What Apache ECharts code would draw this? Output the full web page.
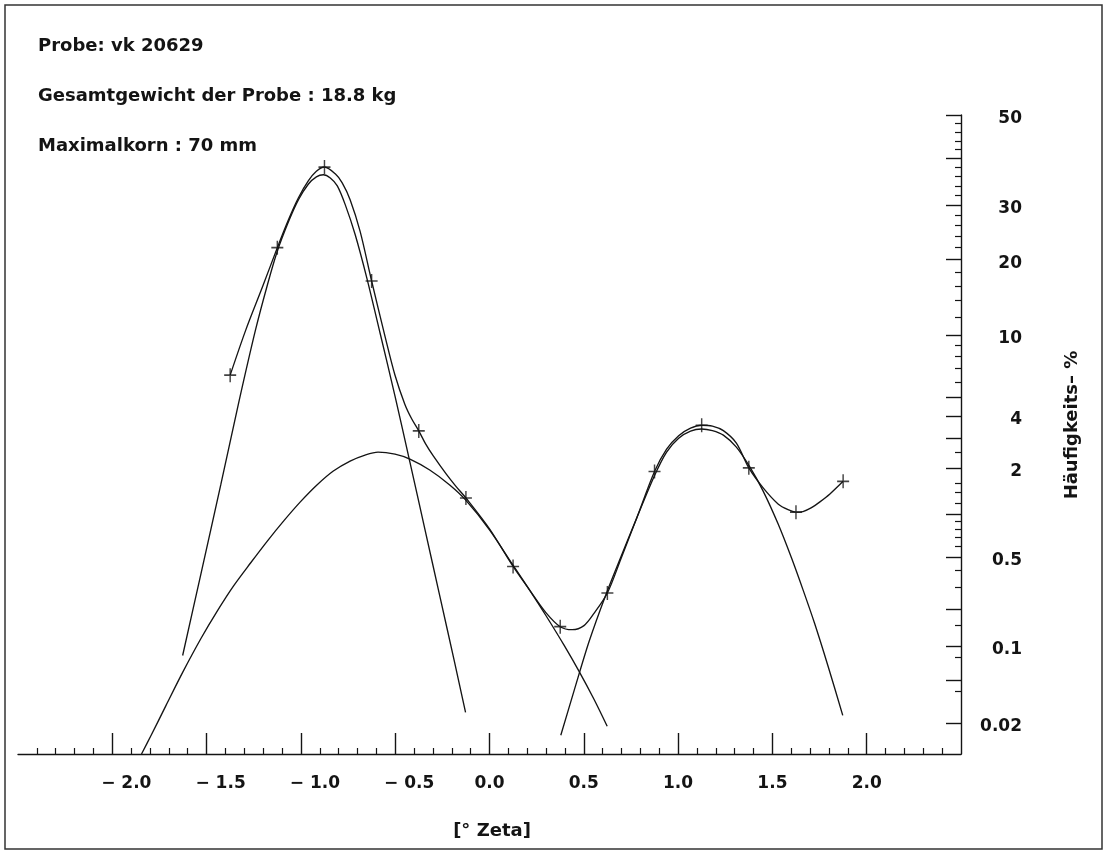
<!DOCTYPE html>
<html>
<head>
<meta charset="utf-8">
<script src="https://cdn.jsdelivr.net/npm/echarts@6/dist/echarts.min.js"></script>
<style>
html,body{margin:0;padding:0;background:#fff;}
#chart{width:1111px;height:855px;}
</style>
</head>
<body>
<div id="chart"></div>
<script>
// ---- measured frequencies (Häufigkeit in %) at Zeta class midpoints ----
const zeta = [-1.375,-1.125,-0.875,-0.625,-0.375,-0.125,0.125,0.375,0.625,0.875,1.125,1.375,1.625,1.875];
const haeufigkeit = [6.5,22.0,38.1,16.7,3.3,1.29,0.43,0.145,0.27,1.9,3.55,2.0,1.04,1.65];

const curveX = [-1.375,-1.293,-1.203,-1.125,-1.066,-1.013,-0.960,-0.918,-0.875,-0.818,-0.781,-0.739,-0.686,-0.625,
  -0.554,-0.501,-0.449,-0.412,-0.375,-0.338,-0.299,-0.229,-0.179,-0.125,0.0,0.125,0.211,0.299,0.375,0.438,0.501,0.554,
  0.625,0.697,0.781,0.875,0.939,1.003,1.066,1.125,1.182,1.240,1.309,1.375,1.451,1.530,1.583,1.625,1.662,1.705,1.752,1.805,1.875];
const curveY = [6.5,10.5,15.9,22.0,27.1,31.5,35.1,37.15,38.1,36.6,34.65,31.1,24.9,16.7,
  9.88,6.49,4.62,3.84,3.3,2.77,2.37,1.83,1.54,1.29,0.80,0.43,0.287,0.189,0.145,0.137,0.148,0.186,
  0.27,0.49,0.952,1.9,2.59,3.10,3.42,3.55,3.51,3.31,2.81,2.0,1.50,1.18,1.08,1.04,1.05,1.11,1.217,1.37,1.65];

// ---- component 1 (narrow peak) ----
const comp1X = [-1.627,-1.530,-1.425,-1.328,-1.240,-1.177,-1.126,-1.066,-1.013,-0.960,-0.918,-0.881,-0.844,-0.807,
  -0.765,-0.712,-0.651,-0.580,-0.501,-0.422,-0.343,-0.264,-0.185,-0.127];
const comp1Y = [0.0828,0.379,1.565,4.79,10.6,16.2,21.3,26.7,31.1,34.4,35.95,36.4,35.7,34.0,
  30.1,24.3,17.2,10.2,5.09,2.17,0.80,0.258,0.0721,0.0254];

// ---- component 2 (broad) ----
const comp2X = [-1.845,-1.794,-1.715,-1.627,-1.530,-1.442,-1.356,-1.266,-1.177,-1.091,-1.003,-0.915,-0.828,-0.739,
  -0.660,-0.591,-0.501,-0.422,-0.317,-0.211,-0.127,0.0,0.123,0.211,0.299,0.396,0.475,0.554,0.624];
const comp2Y = [0.0100,0.0153,0.0295,0.0589,0.1156,0.196,0.308,0.458,0.660,0.908,1.217,1.565,1.913,2.20,
  2.39,2.49,2.42,2.26,1.94,1.565,1.254,0.788,0.443,0.287,0.179,0.101,0.0601,0.0336,0.0187];

// ---- component 3 (right peak) ----
const comp3X = [0.378,0.449,0.528,0.617,0.697,0.781,0.874,0.939,1.003,1.066,1.124,1.182,1.240,1.309,1.381,1.451,
  1.530,1.601,1.662,1.724,1.794,1.873];
const comp3Y = [0.0153,0.0406,0.109,0.262,0.507,0.952,1.782,2.49,3.00,3.29,3.38,3.31,3.12,2.66,2.02,1.43,
  0.867,0.498,0.287,0.154,0.0678,0.0238];

// ---- axis ticks / labels ----
const xTickValues = [-2.0,-1.5,-1.0,-0.5,0.0,0.5,1.0,1.5,2.0];
const xTickLabels = ['\u2212 2.0','\u2212 1.5','\u2212 1.0','\u2212 0.5','0.0','0.5','1.0','1.5','2.0'];
const xMinorTicks = [-2.4,-2.3,-2.2,-2.1,-1.9,-1.8,-1.7,-1.6,-1.4,-1.3,-1.2,-1.1,-0.9,-0.8,-0.7,-0.6,
  -0.4,-0.3,-0.2,-0.1,0.1,0.2,0.3,0.4,0.6,0.7,0.8,0.9,1.1,1.2,1.3,1.4,1.6,1.7,1.8,1.9,2.1,2.2,2.3,2.4];
const yLabelValues = [50,30,20,10,4,2,0.5,0.1,0.02];
const yMajorTicks = [50,40,30,20,10,5,4,3,2,1,0.5,0.2,0.1,0.05,0.02];
const yMinorTicks = [48,46,44,42,38,36,34,32,28,26,24,22,18,16,14,12,9,8,7,6,2.5,1.6,1.4,1.2,0.9,0.8,0.7,0.6,0.4,0.3,0.15,0.08,0.04];
const yMinPct = 0.01, yMaxPct = 50;

// probability (normal quantile) scale
function probit(p){
  const a=[-3.969683028665376e+01,2.209460984245205e+02,-2.759285104469687e+02,1.383577518672690e+02,-3.066479806614716e+01,2.506628277459239e+00];
  const b=[-5.447609879822406e+01,1.615858368580409e+02,-1.556989798598866e+02,6.680131188771972e+01,-1.328068155288572e+01];
  const c=[-7.784894002430293e-03,-3.223964580411365e-01,-2.400758277161838e+00,-2.549732539343734e+00,4.374664141464968e+00,2.938163982698783e+00];
  const d=[7.784695709041462e-03,3.224671290700398e-01,2.445134137142996e+00,3.754408661907416e+00];
  const pl=0.02425, ph=1-pl; let q,r;
  if(p<pl){q=Math.sqrt(-2*Math.log(p));return (((((c[0]*q+c[1])*q+c[2])*q+c[3])*q+c[4])*q+c[5])/((((d[0]*q+d[1])*q+d[2])*q+d[3])*q+1);}
  if(p<=ph){q=p-0.5;r=q*q;return (((((a[0]*r+a[1])*r+a[2])*r+a[3])*r+a[4])*r+a[5])*q/(((((b[0]*r+b[1])*r+b[2])*r+b[3])*r+b[4])*r+1);}
  q=Math.sqrt(-2*Math.log(1-p));return -(((((c[0]*q+c[1])*q+c[2])*q+c[3])*q+c[4])*q+c[5])/((((d[0]*q+d[1])*q+d[2])*q+d[3])*q+1);
}
const T = pct => probit(pct/100);
const pairs = (xs, ys) => xs.map((x,i)=>[x, T(ys[i])]);

const FONT = 'DejaVu Sans';
const INK = '#141414';
const lineW = 1.35;
const plus = 'path://M4.4,0 h1.2 v4.4 h4.4 v1.2 h-4.4 v4.4 h-1.2 v-4.4 h-4.4 v-1.2 h4.4 z';
const labelText = {fontFamily:FONT, fontWeight:'bold', fontSize:17, color:INK};

const chart = echarts.init(document.getElementById('chart'), null, {renderer:'canvas'});
const curve = (name, data) => ({
  name, type:'line', data, smooth:0.3, showSymbol:false, symbol:'none', clip:true,
  lineStyle:{color:INK, width:lineW}, silent:true, z:2
});

chart.setOption({
  animation:false,
  backgroundColor:'#fff',
  grid:{left:18, top:115, width:943, height:639, containLabel:false},
  xAxis:[{
    type:'value', min:-2.5, max:2.5, position:'bottom',
    axisLine:{show:true, onZero:false, lineStyle:{color:INK, width:1.4}},
    axisTick:{show:true, inside:true, length:21, customValues:xTickValues, lineStyle:{color:INK, width:1.4}},
    axisLabel:Object.assign({show:true, customValues:xTickValues, margin:21,
      formatter:(v)=>{const i=xTickValues.findIndex(t=>Math.abs(t-v)<1e-9); if(i<0) return '';
        return (v<0?'{neg|':'{pos|')+xTickLabels[i]+'}';},
      rich:{neg:Object.assign({padding:[0,0,0,28]}, labelText), pos:Object.assign({padding:[0,0,0,0]}, labelText)}
    }, labelText),
    splitLine:{show:false}
  },{
    type:'value', min:-2.5, max:2.5, position:'bottom', offset:0,
    axisLine:{show:false, onZero:false},
    axisTick:{show:true, inside:true, length:6, customValues:xMinorTicks, lineStyle:{color:INK, width:1.2}},
    axisLabel:{show:false}, splitLine:{show:false}
  }],
  yAxis:[{
    type:'value', min:T(yMinPct), max:T(yMaxPct), position:'right',
    axisLine:{show:true, onZero:false, lineStyle:{color:INK, width:1.4}},
    axisTick:{show:true, inside:true, length:15, customValues:yMajorTicks.map(T), lineStyle:{color:INK, width:1.4}},
    axisLabel:Object.assign({show:true, customValues:yLabelValues.map(T), align:'right', margin:61,
      formatter:(v)=>{const l=yLabelValues.find(t=>Math.abs(T(t)-v)<1e-6); return l===undefined?'':'{a|'+String(l)+'}';},
      rich:{a:Object.assign({padding:[7,0,0,0]}, labelText)}
    }, labelText),
    splitLine:{show:false}
  },{
    type:'value', min:T(yMinPct), max:T(yMaxPct), position:'right', offset:0,
    axisLine:{show:false, onZero:false},
    axisTick:{show:true, inside:true, length:6, customValues:yMinorTicks.map(T), lineStyle:{color:INK, width:1.2}},
    axisLabel:{show:false}, splitLine:{show:false}
  }],
  graphic:[
    {type:'rect', shape:{x:5, y:5, width:1097, height:844}, style:{fill:'none', stroke:'#333', lineWidth:1.5}, silent:true},
    {type:'text', x:38, y:46, style:{text:'Probe: vk 20629', fill:INK, font:'bold 18px "DejaVu Sans"', verticalAlign:'middle'}},
    {type:'text', x:38, y:96, style:{text:'Gesamtgewicht der Probe : 18.8 kg', fill:INK, font:'bold 18px "DejaVu Sans"', verticalAlign:'middle'}},
    {type:'text', x:38, y:146, style:{text:'Maximalkorn : 70 mm', fill:INK, font:'bold 18px "DejaVu Sans"', verticalAlign:'middle'}},
    {type:'text', x:492, y:831, style:{text:'[\u00B0 Zeta]', fill:INK, font:'bold 18px "DejaVu Sans"', align:'center', verticalAlign:'middle'}},
    {type:'text', x:1072, y:425, rotation:Math.PI/2, style:{text:'H\u00E4ufigkeits\u2013 %', fill:INK, font:'bold 18px "DejaVu Sans"', align:'center', verticalAlign:'middle'}}
  ],
  series:[
    curve('Komponente 1', pairs(comp1X, comp1Y)),
    curve('Komponente 2', pairs(comp2X, comp2Y)),
    curve('Komponente 3', pairs(comp3X, comp3Y)),
    curve('Verteilung', pairs(curveX, curveY)),
    {
      name:'Messwerte', type:'scatter', data:pairs(zeta, haeufigkeit),
      symbol:plus, symbolSize:[12,14], itemStyle:{color:INK}, z:4, silent:true
    }
  ]
});
</script>
</body>
</html>
